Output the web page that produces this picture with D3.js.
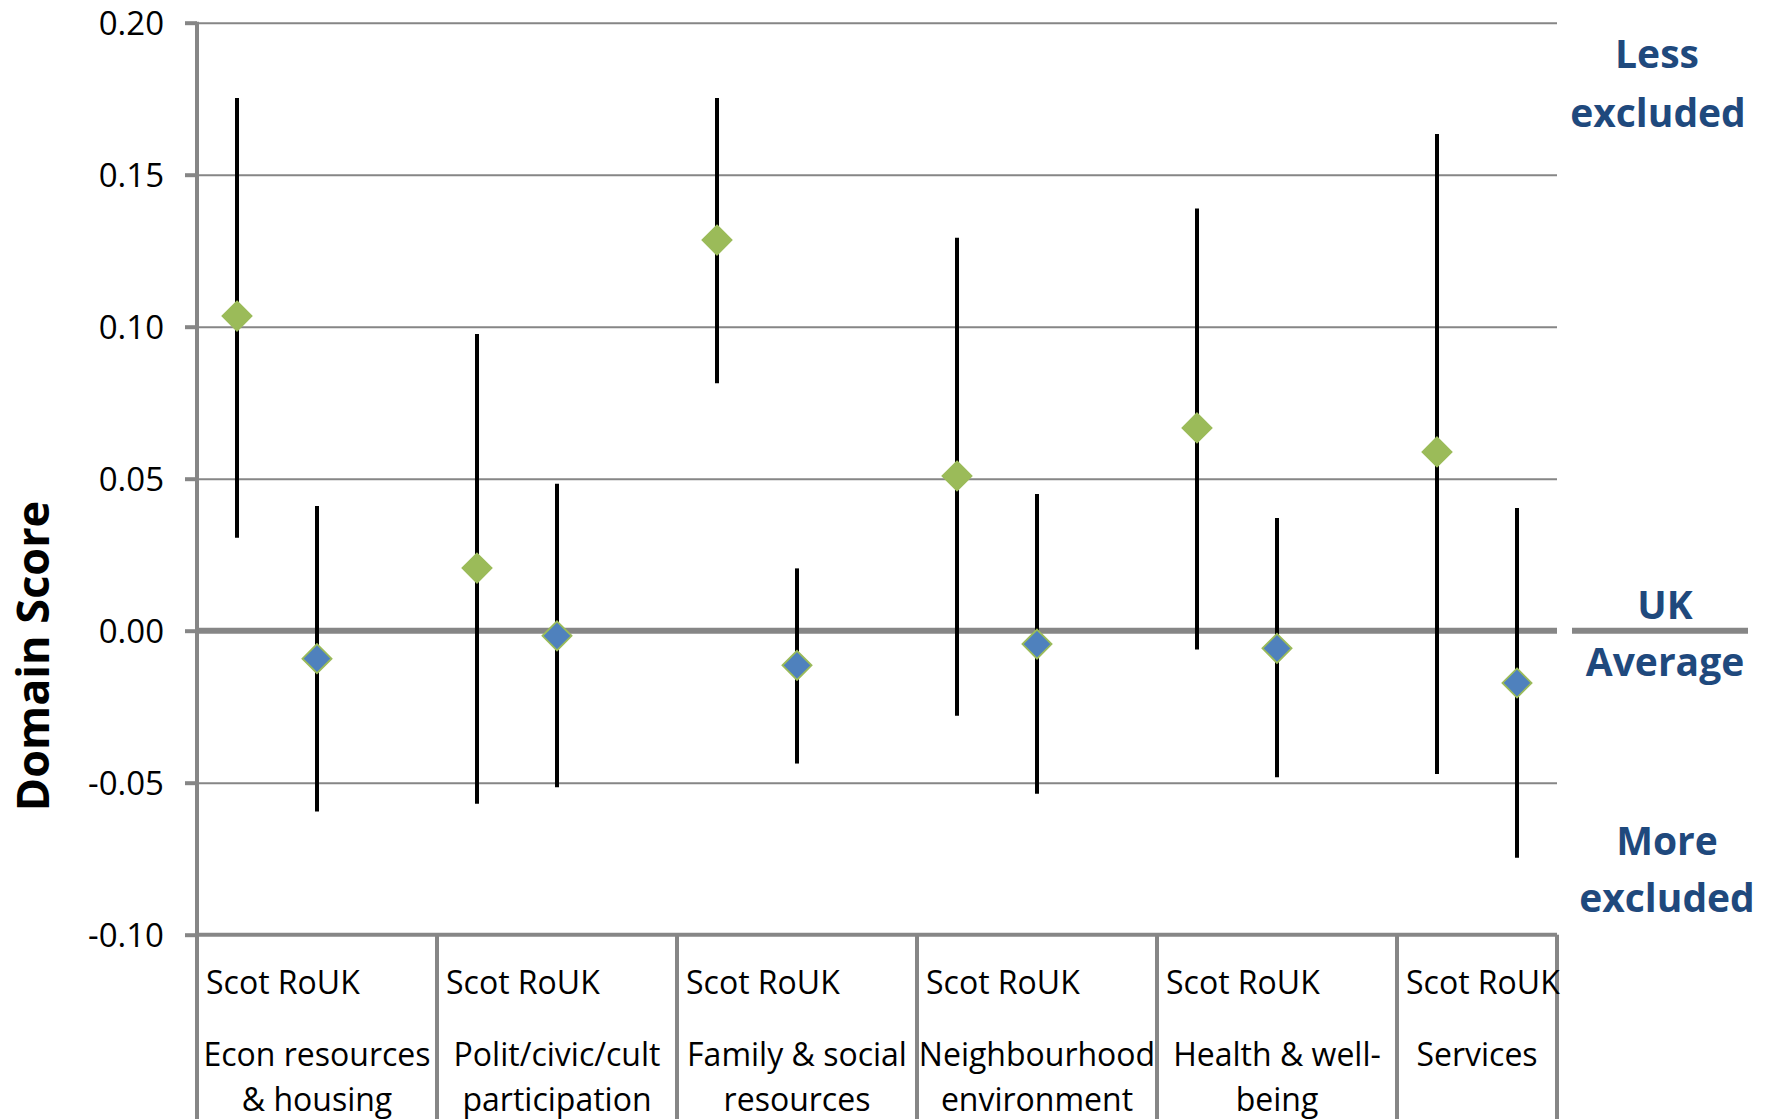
<!DOCTYPE html>
<html>
<head>
<meta charset="utf-8">
<script src="https://cdn.jsdelivr.net/npm/d3@7/dist/d3.min.js"></script>
<style>
  html, body { margin: 0; padding: 0; background: #ffffff; }
  svg { display: block; }
</style>
</head>
<body>
<svg id="chart" width="1775" height="1119"></svg>
<script>
// Domains (outer category labels, one or two lines each)
const domains = [
  ["Econ resources", "& housing"],
  ["Polit/civic/cult", "participation"],
  ["Family & social", "resources"],
  ["Neighbourhood", "environment"],
  ["Health & well-", "being"],
  ["Services"]
];
const groupLabel = "Scot RoUK";

// Scotland: mean domain score with confidence interval
const scotValue = [0.1035, 0.0206, 0.1285, 0.0509, 0.0667, 0.0588];
const scotLow   = [0.0306, -0.0569, 0.0814, -0.0280, -0.0062, -0.0471];
const scotHigh  = [0.1752, 0.0976, 0.1752, 0.1293, 0.1389, 0.1634];

// Rest of UK: mean domain score with confidence interval
const roukValue = [-0.0092, -0.0017, -0.0114, -0.0044, -0.0058, -0.0172];
const roukLow   = [-0.0595, -0.0515, -0.0437, -0.0536, -0.0482, -0.0747];
const roukHigh  = [0.0410, 0.0483, 0.0205, 0.0450, 0.0371, 0.0404];

// Value axis
const yTicks = [-0.10, -0.05, 0.00, 0.05, 0.10, 0.15, 0.20];
const yTickLabels = ["-0.10", "-0.05", "0.00", "0.05", "0.10", "0.15", "0.20"];

const GRID = "#868686";
const GREEN = "#9BBB59";
const BLUE = "#4F81BD";
const NAVY = "#1F497D";
const FONT = "'Open Sans', 'Liberation Sans', sans-serif";

const svg = d3.select("#chart");
const W = 1775, H = 1119;
const plot = { left: 197, right: 1557, top: 22.7, bottom: 934.7 };

// Each domain takes three slots (Scot, RoUK, gap); the frame ends after 17 slots
const slotsPerGroup = 3;
const slotCount = 17;
const x = d3.scaleLinear().domain([0, slotCount]).range([plot.left, plot.right]);
const y = d3.scaleLinear().domain([-0.10, 0.20]).range([plot.bottom, plot.top]);

// Horizontal gridlines
svg.append("g")
  .attr("transform", `translate(${plot.left},0)`)
  .call(d3.axisLeft(y).tickValues(yTicks.filter(t => t !== 0 && t !== -0.10))
    .tickSize(-(plot.right - plot.left)).tickFormat(""))
  .call(g => g.select(".domain").remove())
  .call(g => g.selectAll("line").attr("stroke", GRID).attr("stroke-width", 2));

// Tick marks and tick labels on the value axis
svg.append("g")
  .attr("transform", `translate(${plot.left},0)`)
  .call(d3.axisLeft(y).tickValues(yTicks).tickSize(12).tickPadding(21)
    .tickFormat((d, i) => yTickLabels[i]))
  .call(g => g.select(".domain").remove())
  .call(g => g.selectAll("line").attr("stroke", GRID).attr("stroke-width", 4))
  .call(g => g.selectAll("text")
    .attr("fill", "#000").attr("font-family", FONT).attr("font-size", 33)
    .attr("dy", "0.36em"));

// Zero (UK average) line
svg.append("line")
  .attr("x1", plot.left).attr("x2", plot.right)
  .attr("y1", y(0)).attr("y2", y(0))
  .attr("stroke", GRID).attr("stroke-width", 6);

// Category axis line at the bottom of the plot
svg.append("line")
  .attr("x1", plot.left).attr("x2", plot.right)
  .attr("y1", y(-0.10)).attr("y2", y(-0.10))
  .attr("stroke", GRID).attr("stroke-width", 4);

// Left value axis, continuing down as the outer divider of the category labels
svg.append("line")
  .attr("x1", plot.left).attr("x2", plot.left)
  .attr("y1", plot.top - 1).attr("y2", H)
  .attr("stroke", GRID).attr("stroke-width", 4);

// Group dividers below the plot
const dividerSlots = d3.range(1, domains.length).map(i => i * slotsPerGroup).concat([slotCount]);
svg.append("g").selectAll("line")
  .data(dividerSlots)
  .join("line")
  .attr("x1", d => x(d)).attr("x2", d => x(d))
  .attr("y1", plot.bottom).attr("y2", H)
  .attr("stroke", GRID).attr("stroke-width", 4);

// Category labels
const labels = svg.append("g").attr("font-family", FONT).attr("font-size", 32).attr("fill", "#000");
domains.forEach((lines, i) => {
  const s0 = i * slotsPerGroup;
  const s1 = Math.min(s0 + slotsPerGroup, slotCount);
  labels.append("text")
    .attr("x", x(s0) + 9).attr("y", 994)
    .text(groupLabel);
  const cx = (x(s0) + x(s1)) / 2;
  lines.forEach((line, k) => {
    labels.append("text")
      .attr("x", cx).attr("y", 1066 + k * 45)
      .attr("text-anchor", "middle")
      .text(line);
  });
});

// Points and confidence intervals
const series = [
  { offset: 0.5, value: scotValue, low: scotLow, high: scotHigh, fill: GREEN, stroke: GREEN },
  { offset: 1.5, value: roukValue, low: roukLow, high: roukHigh, fill: BLUE, stroke: GREEN }
];
const diamond = d3.symbol().type(d3.symbolDiamond2).size(540);

series.forEach(s => {
  const pts = s.value.map((v, i) => ({
    x: x(i * slotsPerGroup + s.offset), v, lo: s.low[i], hi: s.high[i]
  }));
  svg.append("g").selectAll("line")
    .data(pts)
    .join("line")
    .attr("x1", d => d.x).attr("x2", d => d.x)
    .attr("y1", d => y(d.hi)).attr("y2", d => y(d.lo))
    .attr("stroke", "#000").attr("stroke-width", 4);
  svg.append("g").selectAll("path")
    .data(pts)
    .join("path")
    .attr("transform", d => `translate(${d.x},${y(d.v)})`)
    .attr("d", diamond)
    .attr("fill", s.fill)
    .attr("stroke", s.stroke).attr("stroke-width", 1.8);
});

// Y axis title
svg.append("text")
  .attr("transform", "translate(49,656) rotate(-90)")
  .attr("text-anchor", "middle")
  .attr("font-family", FONT).attr("font-weight", 700).attr("font-size", 45)
  .attr("fill", "#000")
  .text("Domain Score");

// Annotations on the right
const notes = svg.append("g")
  .attr("font-family", FONT).attr("font-weight", 700).attr("font-size", 39)
  .attr("fill", NAVY).attr("text-anchor", "middle");
notes.append("text").attr("x", 1657).attr("y", 68).text("Less");
notes.append("text").attr("x", 1658).attr("y", 127).text("excluded");
notes.append("text").attr("x", 1665).attr("y", 619).text("UK");
notes.append("text").attr("x", 1665).attr("y", 676).text("Average");
notes.append("text").attr("x", 1667).attr("y", 855).text("More");
notes.append("text").attr("x", 1667).attr("y", 912).text("excluded");

svg.append("line")
  .attr("x1", 1572).attr("x2", 1748)
  .attr("y1", y(0)).attr("y2", y(0))
  .attr("stroke", GRID).attr("stroke-width", 6);
</script>
</body>
</html>
